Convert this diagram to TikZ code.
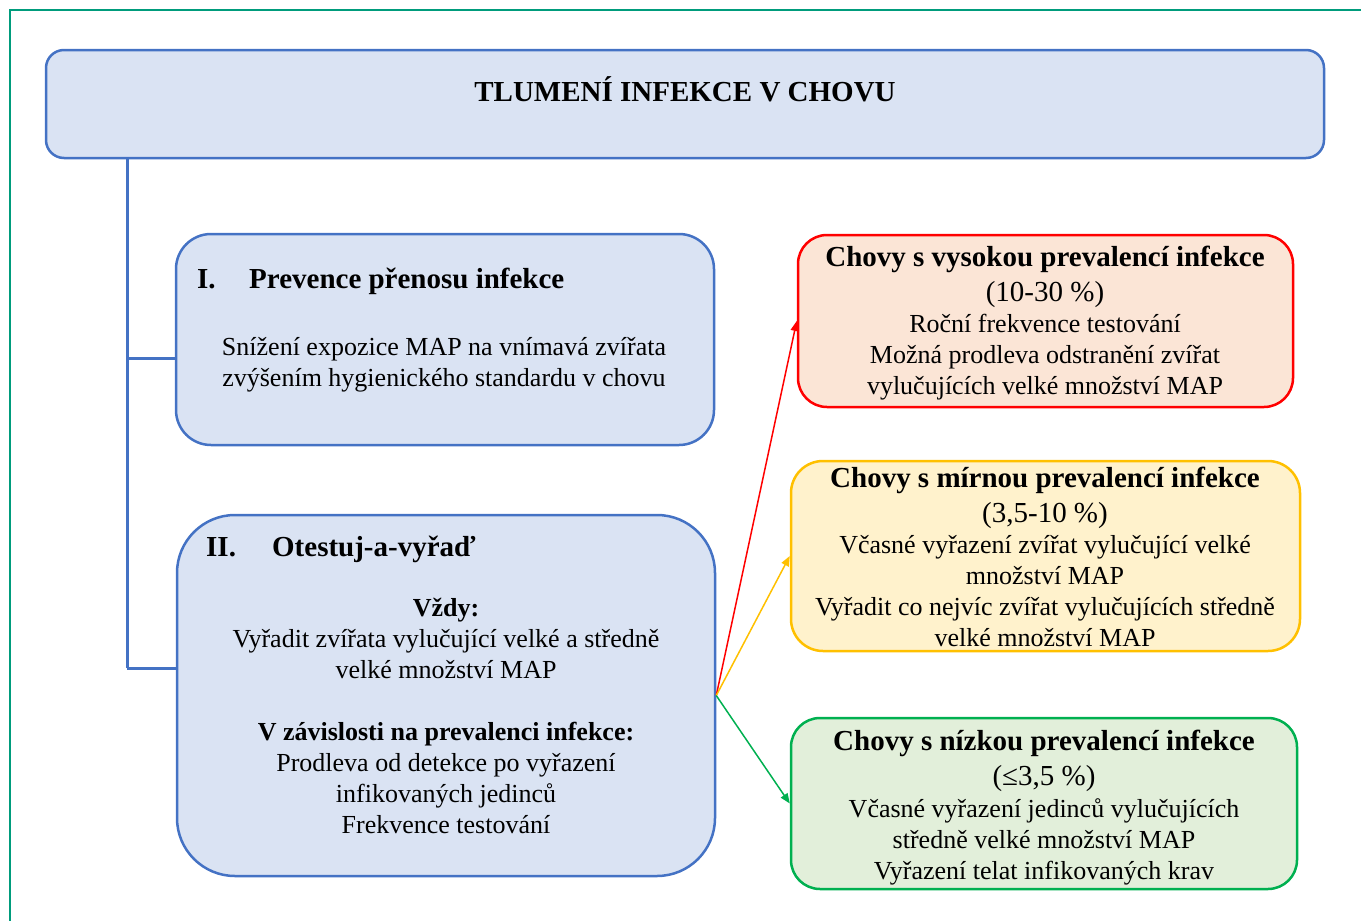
\documentclass[tikz,border=0pt]{standalone}
\usepackage{fontspec}
\setmainfont{Liberation Serif}
\usetikzlibrary{arrows.meta}
\definecolor{framegreen}{RGB}{0,156,124}
\definecolor{bluefill}{HTML}{DAE3F3}
\definecolor{bluedraw}{HTML}{4472C4}
\definecolor{redfill}{HTML}{FBE5D6}
\definecolor{reddraw}{HTML}{FF0000}
\definecolor{yelfill}{HTML}{FFF2CC}
\definecolor{yeldraw}{HTML}{FFC000}
\definecolor{grnfill}{HTML}{E2EFDA}
\definecolor{grndraw}{HTML}{00B050}
\newcommand{\bodyfont}{\fontsize{26}{31}\selectfont}
\newcommand{\headfont}{\fontsize{29}{31}\selectfont\bfseries}
\newcommand{\pctfont}{\fontsize{29}{31}\selectfont}
\begin{document}
\begin{tikzpicture}[x=1pt,y=-1pt,
  bluebox/.style={draw=bluedraw,fill=bluefill,line width=2.5pt,inner sep=0pt},
  redbox/.style={draw=reddraw,fill=redfill,line width=2.5pt,inner sep=0pt},
  yelbox/.style={draw=yeldraw,fill=yelfill,line width=2.5pt,inner sep=0pt},
  grnbox/.style={draw=grndraw,fill=grnfill,line width=2.5pt,inner sep=0pt},
  txt/.style={inner sep=0pt,align=center,font=\bodyfont,text=black},
  head/.style={inner sep=0pt,font=\headfont,text=black},
  trunkline/.style={draw=bluedraw,line width=3pt},
  arr/.style={line width=1.5pt,-{Triangle[length=10pt,width=8pt]}}
]
\useasboundingbox (0,0) rectangle (1361,921);
% outer frame
\draw[framegreen,line width=2.5pt] (10,921) -- (10,10) -- (1361,10);

% title
\node[bluebox,rounded corners=18pt,minimum width=1278pt,minimum height=108pt] (title) at (685,104) {};
\node[head,anchor=base] (titletxt) at (685,101) {TLUMENÍ INFEKCE V CHOVU};

% box I
\node[bluebox,rounded corners=35pt,minimum width=538pt,minimum height=211pt] (boxI) at (445,339.5) {};
\node[head,anchor=base west] (hI) at (197,288) {\makebox[52pt][l]{I.}Prevence přenosu infekce};
\node[txt,anchor=north] (tI) at (444,333.3) {\strut Snížení expozice MAP na vnímavá zvířata\\zvýšením hygienického standardu v chovu};

% box II
\node[bluebox,rounded corners=58pt,minimum width=538pt,minimum height=361pt] (boxII) at (446,695.5) {};
\node[head,anchor=base west] (hII) at (206,556) {\makebox[66pt][l]{II.}Otestuj-a-vyřaď};
\node[txt,anchor=north] (tII) at (446,594.3) {\strut\textbf{Vždy:}\\Vyřadit zvířata vylučující velké a středně\\velké množství MAP\\[31pt]\textbf{V závislosti na prevalenci infekce:}\\Prodleva od detekce po vyřazení\\infikovaných jedinců\\Frekvence testování};

% red box
\node[redbox,rounded corners=29pt,minimum width=495pt,minimum height=172pt] (red) at (1045.5,321) {};
\node[txt,anchor=north] (tred) at (1045,244.3) {\strut{\headfont Chovy s vysokou prevalencí infekce}\\[4pt]{\pctfont (10-30 \%)}\\Roční frekvence testování\\Možná prodleva odstranění zvířat\\vylučujících velké množství MAP};

% yellow box
\node[yelbox,rounded corners=32pt,minimum width=509pt,minimum height=190pt] (yel) at (1045.5,556) {};
\node[txt,anchor=north] (tyel) at (1045,465.3) {\strut{\headfont Chovy s mírnou prevalencí infekce}\\[4pt]{\pctfont (3,5-10 \%)}\\Včasné vyřazení zvířat vylučující velké\\množství MAP\\Vyřadit co nejvíc zvířat vylučujících středně\\velké množství MAP};

% green box
\node[grnbox,rounded corners=29pt,minimum width=506pt,minimum height=171pt] (grn) at (1044,803.5) {};
\node[txt,anchor=north] (tgrn) at (1044,728.3) {\strut{\headfont Chovy s nízkou prevalencí infekce}\\[4pt]{\pctfont (≤3,5 \%)}\\[1pt]Včasné vyřazení jedinců vylučujících\\středně velké množství MAP\\Vyřazení telat infikovaných krav};

% trunk
\coordinate (b1) at (127,358);
\coordinate (b2) at (127,668);
\draw[trunkline] (title.south -| b1) -- (b2);
\draw[trunkline] (b1) -- (b1 -| boxI.west);
\draw[trunkline] (b2) -- (b2 -| boxII.west);

% arrows
\draw[arr,reddraw] (boxII.east) -- (red.west);
\draw[arr,yeldraw] (boxII.east) -- (yel.west);
\draw[arr,grndraw] (boxII.east) -- (grn.west);
\end{tikzpicture}
\end{document}
